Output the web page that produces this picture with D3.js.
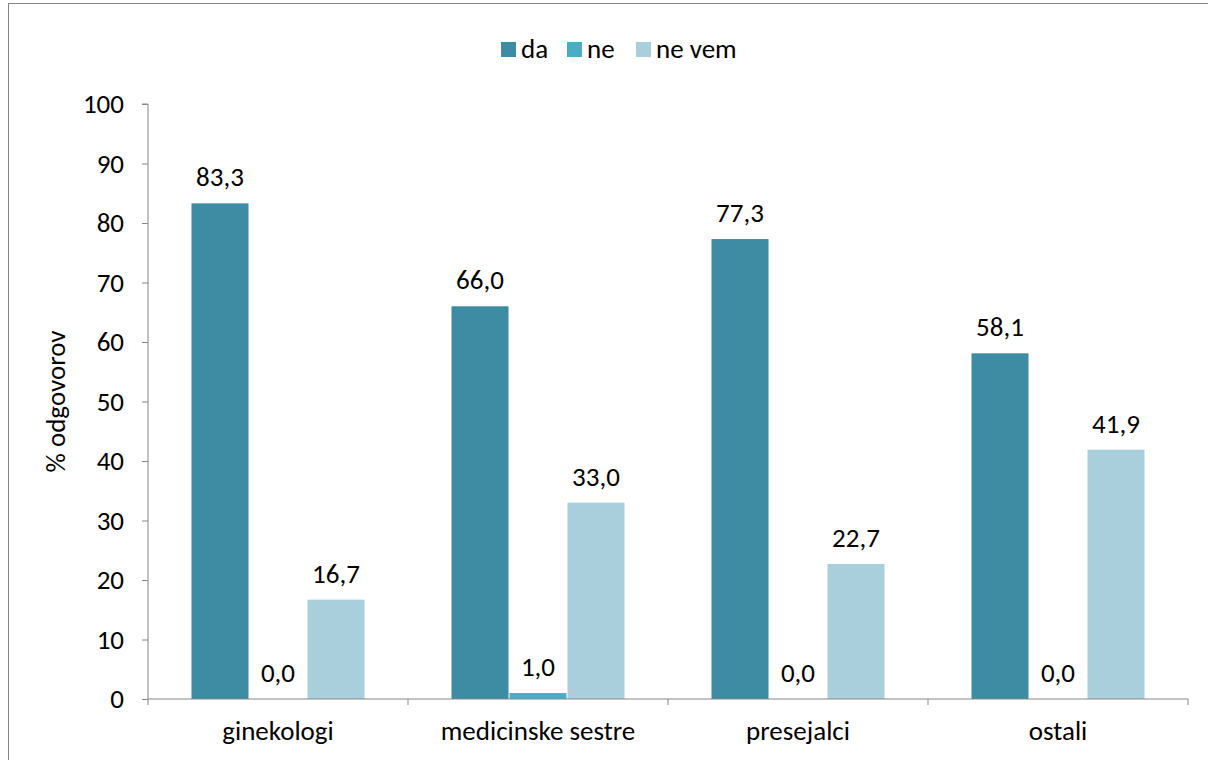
<!DOCTYPE html>
<html>
<head>
<meta charset="utf-8">
<script src="https://cdn.jsdelivr.net/npm/d3@7/dist/d3.min.js"></script>
<style>
  html, body { margin: 0; padding: 0; background: #fff; }
  svg { display: block; font-family: Carlito, Lato, "Open Sans", sans-serif; }
</style>
</head>
<body>
<svg id="chart" width="1208" height="760"></svg>
<script>
// Categories, series and values
const categories = ["ginekologi", "medicinske sestre", "presejalci", "ostali"];
const seriesNames = ["da", "ne", "ne vem"];
const da = [83.3, 66.0, 77.3, 58.1];
const ne = [0.0, 1.0, 0.0, 0.0];
const neVem = [16.7, 33.0, 22.7, 41.9];
const yTicks = [0, 10, 20, 30, 40, 50, 60, 70, 80, 90, 100];
const colors = ["#3d8ca3", "#4bacc6", "#a9cfdc"];

const FONT = "Carlito, Lato, 'Open Sans', sans-serif";
const FS = 27;

const seriesValues = [da, ne, neVem];
const rows = categories.map((c, i) => ({
  category: c,
  values: seriesNames.map((s, j) => ({ series: s, value: seriesValues[j][i], color: colors[j] }))
}));

const svg = d3.select("#chart");

// Outer chart frame
svg.append("rect")
  .attr("x", 8.5).attr("y", 3.5)
  .attr("width", 1240).attr("height", 800)
  .attr("fill", "none").attr("stroke", "#868686").attr("stroke-width", 1);

const plot = { left: 148, right: 1188, top: 104, bottom: 699 };

const x0 = d3.scaleBand().domain(categories).range([plot.left, plot.right]).paddingInner(0).paddingOuter(0);
const groupPad = 43;
const x1 = d3.scaleBand().domain(seriesNames).range([groupPad, x0.bandwidth() - groupPad]).padding(0);
const y = d3.scaleLinear().domain([0, 100]).range([plot.bottom, plot.top]);

const fmt = v => v.toFixed(1).replace(".", ",");

// Bars
const groups = svg.append("g").selectAll("g").data(rows).join("g")
  .attr("transform", d => `translate(${x0(d.category)},0)`);

groups.selectAll("rect").data(d => d.values).join("rect")
  .attr("x", d => x1(d.series) + 0.5)
  .attr("width", x1.bandwidth() - 1)
  .attr("y", d => y(d.value))
  .attr("height", d => plot.bottom - y(d.value))
  .attr("fill", d => d.color);

// Value labels
groups.selectAll("text").data(d => d.values).join("text")
  .attr("x", d => x1(d.series) + x1.bandwidth() / 2)
  .attr("y", d => y(d.value) - 17)
  .attr("text-anchor", "middle")
  .attr("font-size", FS)
  .attr("fill", "#000")
  .text(d => fmt(d.value));

// Y axis
const yAxis = d3.axisLeft(y).tickValues(yTicks).tickSize(6).tickPadding(18).tickFormat(d3.format("d"));
const yg = svg.append("g").attr("transform", `translate(${plot.left},0)`).call(yAxis);
yg.select(".domain").attr("stroke", "#868686").attr("d", `M-6,${plot.top}H0V${plot.bottom}`);
yg.selectAll(".tick line").attr("stroke", "#868686");
yg.selectAll(".tick text").attr("font-size", FS).attr("fill", "#000").attr("font-family", FONT);

// X axis
const xAxis = d3.axisBottom(x0).tickSize(0).tickPadding(22);
const xg = svg.append("g").attr("transform", `translate(0,${plot.bottom})`).call(xAxis);
xg.select(".domain").attr("stroke", "#868686").attr("d", `M${plot.left},0H${plot.right}`);
xg.selectAll(".tick text").attr("font-size", FS).attr("fill", "#000").attr("font-family", FONT);
// Boundary tick marks between categories
const boundaries = categories.map(c => x0(c)).concat([plot.right]);
xg.selectAll(".bound").data(boundaries).join("line")
  .attr("class", "bound")
  .attr("x1", d => d).attr("x2", d => d)
  .attr("y1", 0).attr("y2", 6)
  .attr("stroke", "#868686");

// Y axis title
svg.append("text")
  .attr("transform", `translate(65,${(plot.top + plot.bottom) / 2}) rotate(-90)`)
  .attr("text-anchor", "middle")
  .attr("font-size", FS)
  .attr("fill", "#000")
  .text("% odgovorov");

// Legend
const legendItems = [
  { name: "da", x: 501 },
  { name: "ne", x: 567 },
  { name: "ne vem", x: 636 }
];
const lg = svg.append("g").selectAll("g").data(legendItems).join("g")
  .attr("transform", d => `translate(${d.x},42)`);
lg.append("rect").attr("width", 15).attr("height", 15)
  .attr("fill", (d, i) => colors[i]);
lg.append("text").attr("x", 20).attr("y", 16)
  .attr("font-size", FS).attr("fill", "#000")
  .text(d => d.name);
</script>
</body>
</html>
